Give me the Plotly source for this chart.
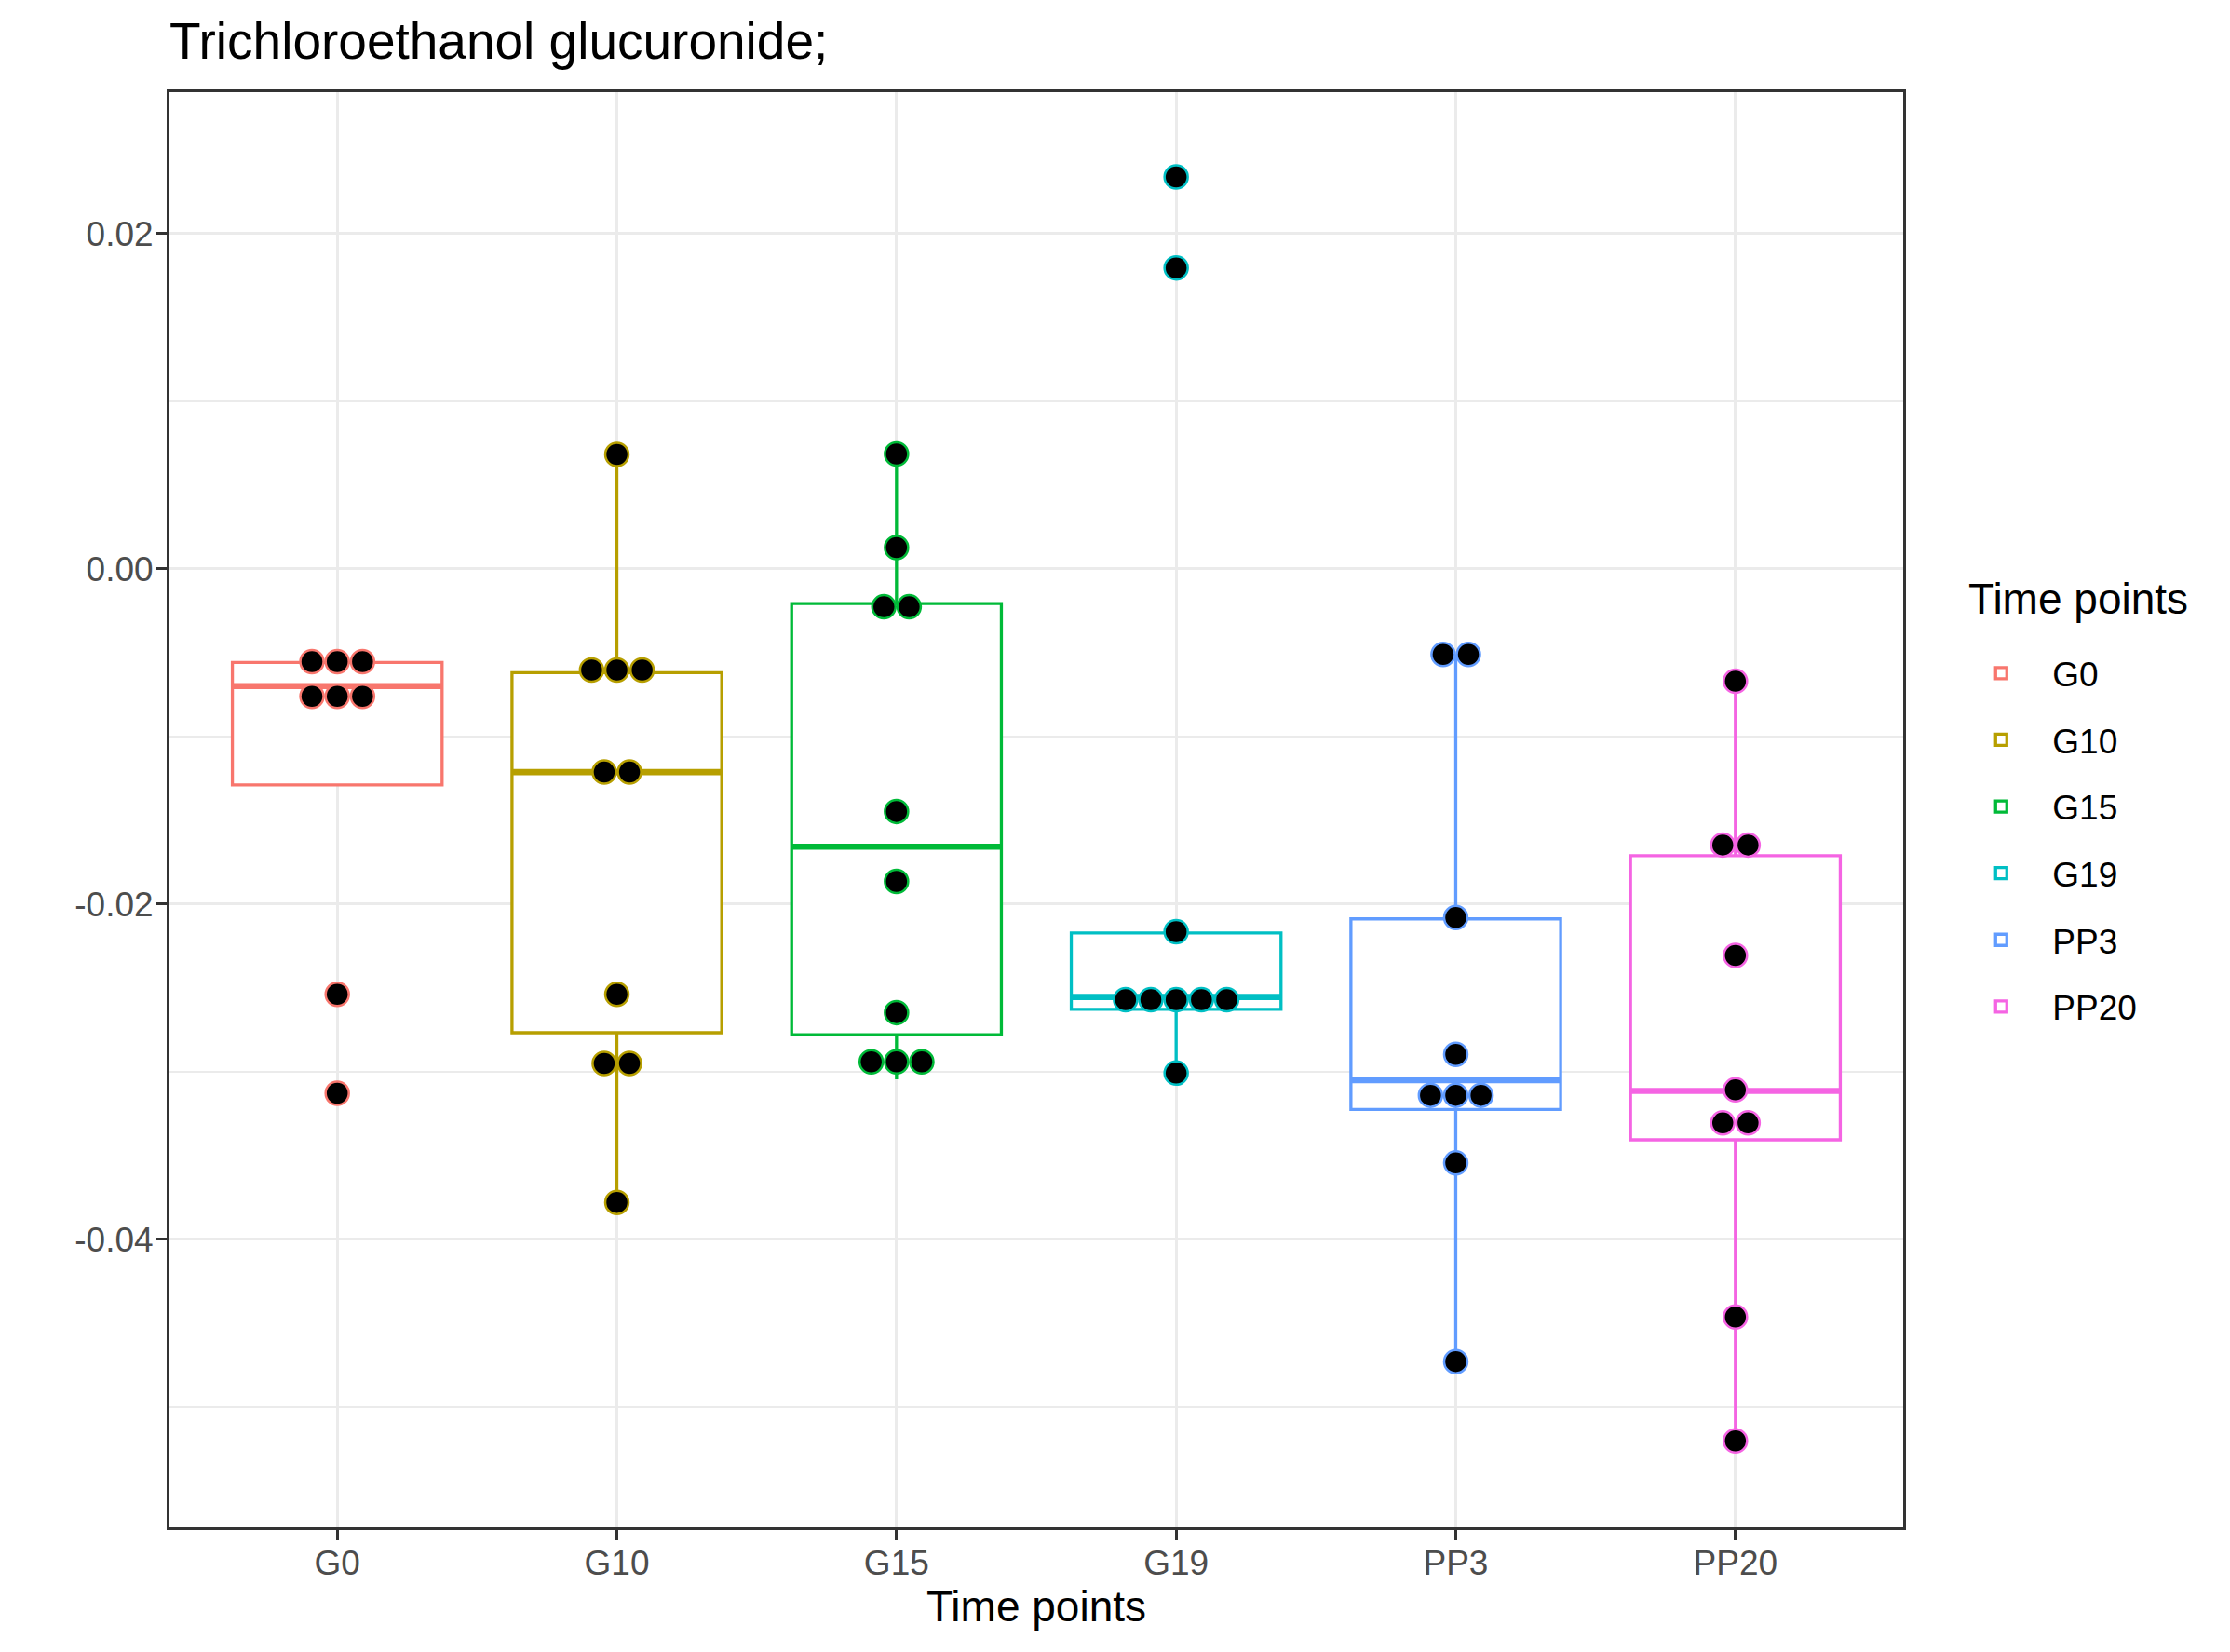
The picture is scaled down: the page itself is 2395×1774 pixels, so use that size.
import plotly.graph_objects as go

categories = ["G0", "G10", "G15", "G19", "PP3", "PP20"]
colors = ["#F8766D", "#B79F00", "#00BA38", "#00BFC4", "#619CFF", "#F564E3"]

# dot values
g0_vals = [-0.00553, -0.00553, -0.00553, -0.0076, -0.0076, -0.0076, -0.02538, -0.03128]
g10_vals = [0.00683, -0.00603, -0.00603, -0.00603, -0.01212, -0.01212, -0.02538,
            -0.0295, -0.0295, -0.03779]
g15_vals = [0.00686, 0.00127, -0.00226, -0.00226, -0.01447, -0.01864, -0.02647,
            -0.02941, -0.02941, -0.02941]
g19_vals = [0.02338, 0.01796, -0.02164, -0.0257, -0.0257, -0.0257, -0.0257, -0.0257,
            -0.03008]
pp3_vals = [-0.0051, -0.0051, -0.0208, -0.02896, -0.0314, -0.0314, -0.0314,
            -0.03544, -0.04729]
pp20_vals = [-0.0067, -0.01647, -0.01647, -0.02306, -0.03108, -0.03305, -0.03305,
             -0.04463, -0.05202]
group_values = [g0_vals, g10_vals, g15_vals, g19_vals, pp3_vals, pp20_vals]

# box statistics
box_q1 = [-0.01289, -0.02767, -0.02779, -0.02628, -0.03225, -0.03406]
box_median = [-0.00699, -0.01212, -0.01657, -0.02554, -0.0305, -0.03114]
box_q3 = [-0.00558, -0.00619, -0.00207, -0.02172, -0.02088, -0.01711]
box_lower = [-0.01289, -0.03779, -0.03045, -0.03008, -0.04729, -0.05202]
box_upper = [-0.00558, 0.00684, 0.00686, -0.02172, -0.0051, -0.0067]

y_tickvals = [-0.04, -0.02, 0.0, 0.02]
y_ticktext = ["-0.04", "-0.02", "0.00", "0.02"]
y_minorvals = [-0.05, -0.03, -0.01, 0.01]

FONT = "Liberation Sans, Arial, Helvetica, sans-serif"
BOX_W = 0.75
DOT_STEP = 0.0904
LW = 3.3

fig = go.Figure()

for i, cat in enumerate(categories):
    c = colors[i]
    fig.add_trace(go.Box(
        x=[i], q1=[box_q1[i]], median=[box_median[i]], q3=[box_q3[i]],
        lowerfence=[box_lower[i]], upperfence=[box_upper[i]],
        name=cat, width=BOX_W, whiskerwidth=0, boxpoints=False,
        fillcolor="white", line=dict(color=c, width=LW),
        legendgroup=cat, showlegend=True, hoverinfo="skip",
    ))
    # thicker median (ggplot fatten = 2)
    fig.add_trace(go.Scatter(
        x=[i - BOX_W / 2, i + BOX_W / 2], y=[box_median[i], box_median[i]],
        mode="lines", line=dict(color=c, width=LW * 2),
        showlegend=False, hoverinfo="skip", legendgroup=cat,
    ))

for i, cat in enumerate(categories):
    vals = group_values[i]
    xs, ys = [], []
    seen = []
    for v in vals:
        if v in seen:
            continue
        seen.append(v)
        n = vals.count(v)
        for k in range(n):
            xs.append(i + (k - (n - 1) / 2) * DOT_STEP)
            ys.append(v)
    fig.add_trace(go.Scatter(
        x=xs, y=ys, mode="markers",
        marker=dict(size=25, color="black", line=dict(color=colors[i], width=2.5)),
        showlegend=False, legendgroup=cat, hoverinfo="skip",
    ))

fig.update_layout(
    width=2395, height=1774,
    margin=dict(l=182, r=351, t=99, b=134),
    paper_bgcolor="white", plot_bgcolor="white",
    font=dict(family=FONT, color="black"),
    title=dict(text="Trichloroethanol glucuronide;", x=182 / 2395, xanchor="left",
               xref="container", y=1 - 44 / 1774, yanchor="middle",
               font=dict(size=55, color="black", family=FONT)),
    legend=dict(
        font=dict(size=37, color="black"),
        x=1.027, xanchor="left", y=0.615, yanchor="top",
        tracegroupgap=20.5, bgcolor="rgba(0,0,0,0)", itemwidth=100,
    ),
    showlegend=True,
    annotations=[dict(
        text="Time points", xref="paper", yref="paper", x=1.0364, y=0.647,
        xanchor="left", yanchor="middle", showarrow=False,
        font=dict(size=46, color="black", family=FONT),
    )],
)

fig.update_xaxes(
    range=[-0.6, 5.6], tickmode="array", tickvals=list(range(len(categories))),
    ticktext=categories, tickfont=dict(size=37, color="#4D4D4D"),
    ticks="outside", ticklen=11, tickwidth=3, tickcolor="#333333",
    ticklabelstandoff=-7,
    showgrid=True, gridcolor="#EBEBEB", gridwidth=LW, zeroline=False,
    showline=True, mirror=True, linecolor="#333333", linewidth=3,
    title=dict(text="Time points", font=dict(size=46, color="black"), standoff=8),
)
fig.update_yaxes(
    range=[-0.05717, 0.02844], tickmode="array", tickvals=y_tickvals,
    ticktext=y_ticktext, tickfont=dict(size=37, color="#4D4D4D"),
    ticks="outside", ticklen=11, tickwidth=3, tickcolor="#333333",
    ticklabelstandoff=-4,
    showgrid=True, gridcolor="#EBEBEB", gridwidth=LW, zeroline=False,
    showline=True, mirror=True, linecolor="#333333", linewidth=3,
    minor=dict(tickmode="array", tickvals=y_minorvals, showgrid=True,
               gridcolor="#EBEBEB", gridwidth=1.7, ticks=""),
)

fig.write_html("out.html")
